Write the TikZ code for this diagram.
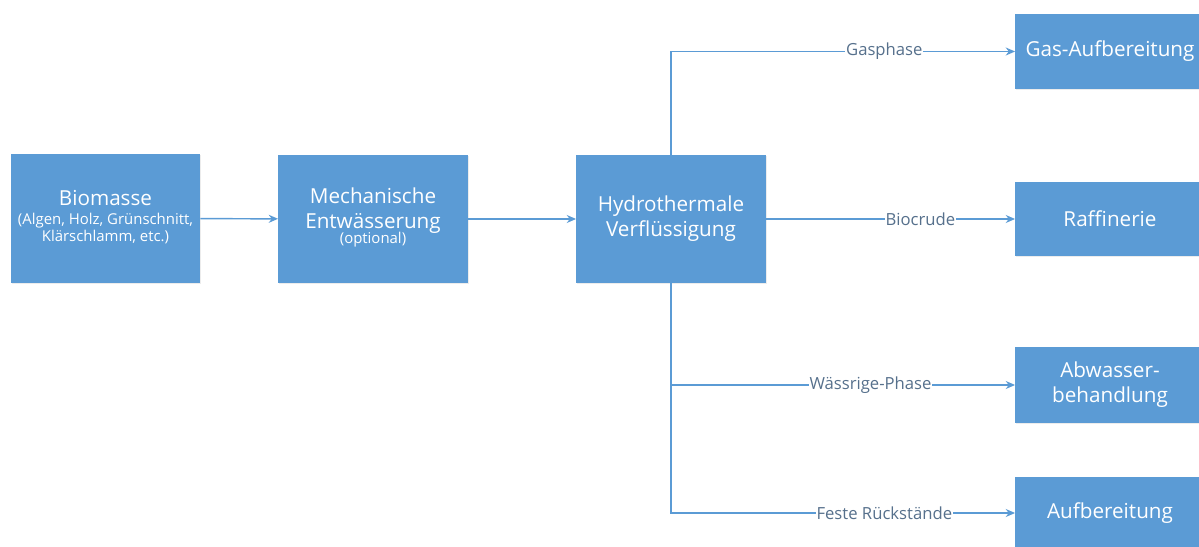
\documentclass[tikz,border=0pt]{standalone}
\usepackage{fontspec}
\setmainfont{Open Sans}
\usetikzlibrary{positioning,calc,arrows.meta,shadows}
\definecolor{boxblue}{HTML}{5B9BD5}
\definecolor{lblgray}{HTML}{56708C}
\newcommand{\smalltxt}{\fontsize{11.2}{13}\selectfont}

\begin{document}
\begin{tikzpicture}[x=0.75pt,y=0.75pt,
            box/.style={fill=boxblue,draw=none,text=white,minimum width=142pt,inner sep=0pt,
                font=\fontsize{15.5}{18.75}\selectfont,
                drop shadow={opacity=0.15,shadow xshift=0.8pt,shadow yshift=-0.8pt}},
            flow/.style={draw=boxblue,line width=1.1pt,-{Stealth[length=7pt,width=6pt]}},
            lbl/.style={fill=white,text=lblgray,inner sep=0.5pt,font=\fontsize{12.5}{14}\selectfont}]
            \useasboundingbox (0,0) rectangle (1199,546);
            % left chain
            \node[box,minimum height=97pt] (bio) at (105.5,327.5) {\begin{tabular}{@{}c@{}}Biomasse\\[-4.5pt]\smalltxt (Algen, Holz, Grünschnitt,\\[-6pt]\smalltxt Klärschlamm, etc.)\end{tabular}};
            \node[box,minimum height=96pt] (mech) at (373,327) {\begin{tabular}{@{}c@{}}Mechanische\\Entwässerung\\[-7.5pt]\smalltxt (optional)\end{tabular}};
            \node[box,minimum height=96pt] (hyd) at (671,327) {\begin{tabular}{@{}c@{}}Hydrothermale\\Verflüssigung\end{tabular}};
            % products
            \node[box,minimum height=56pt] (gas) at (1110,494.5) {Gas-Aufbereitung};
            \node[box,minimum height=56pt] (raff) at (1110,327) {Raffinerie};
            \node[box,minimum height=57pt] (abw) at (1110,161) {\begin{tabular}{@{}c@{}}Abwasser-\\behandlung\end{tabular}};
            \node[box,minimum height=54pt] (auf) at (1110,33) {Aufbereitung};
            % connectors
            \draw[flow] (bio) -- (mech);
            \draw[flow] (mech) -- (hyd);
            \draw[flow] (hyd.north) |- (gas.west) node[lbl,pos=0.81] {Gasphase};
            \draw[flow] (hyd.east) -- (raff.west) node[lbl,pos=0.62] {Biocrude};
            \draw[flow] (hyd.south) |- (abw.west) node[lbl,pos=0.79] {Wässrige-Phase};
            \draw[flow] (hyd.south) |- (auf.west) node[lbl,pos=0.81] {Feste Rückstände};
        \end{tikzpicture}
\end{document}
